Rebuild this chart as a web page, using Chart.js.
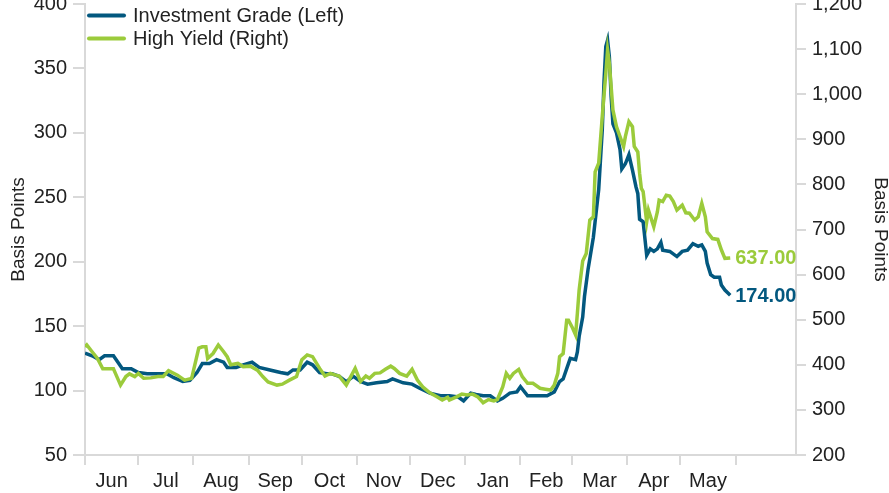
<!DOCTYPE html>
<html>
<head>
<meta charset="utf-8">
<script src="https://cdn.jsdelivr.net/npm/chart.js@4.4.1/dist/chart.umd.min.js"></script>
<style>
  html, body { margin: 0; padding: 0; background: #fff; overflow: hidden; }
  #wrap { position: absolute; left: 0; top: -14px; width: 889px; height: 507px; }
</style>
</head>
<body>
<div id="wrap"><canvas id="myChart"></canvas></div>
<script>
// x values are days counted from 1 Jun 2019
var monthNames = ['Jun', 'Jul', 'Aug', 'Sep', 'Oct', 'Nov', 'Dec', 'Jan', 'Feb', 'Mar', 'Apr', 'May'];
var monthStarts = [0, 30, 61, 92, 122, 153, 183, 214, 245, 274, 305, 335, 366];

var leftTicks = [50, 100, 150, 200, 250, 300, 350, 400];
var rightTicks = [200, 300, 400, 500, 600, 700, 800, 900, 1000, 1100, 1200];

var igDays = [0,4,8,11,16,19,21,26,30,35,40,46,50,55,59,63,66,70,74,78,80,85,89,94,98,104,110,114,117,121,125,128,132,136,139,143,147,151,155,159,164,170,173,179,184,188,194,200,205,210,213,217,220,224,228,232,235,239,243,245,249,254,260,264,267,269,271,273,276,277,278,280,281,283,286,289,291,292,293,294,295,296,297,299,301,302,304,306,308,310,311,312,314,316,318,320,322,324,325,329,333,336,339,342,345,347,349,350,352,354,357,358,360,363];
var igValues = [129,127,124,127,127,121,117,117,114,113,113,113,110,107,108,114,121,121,124,122,118,118,120,122,118,116,114,113,116,116,122,120,114,113,113,111,107,111,107,105,106,107,109,106,105,102,98,96,96,95,92,98,97,96,96,92,94,98,99,103,96,96,96,99,107,109,117,125,124,130,142,157,173,194,219,256,302,340,367,372,359,328,307,300,287,272,276,283,271,258,253,233,231,205,210,208,210,215,209,208,204,208,209,214,212,213,208,199,190,188,188,182,178,174];

var hyDays = [0,1,4,7,10,13,16,17,20,23,25,28,30,33,37,41,44,47,52,56,60,64,66,68,69,72,75,78,80,82,86,89,93,97,100,103,108,111,115,119,122,125,128,132,135,138,141,143,147,149,152,155,158,160,163,166,169,172,174,177,181,184,187,190,194,198,201,204,205,209,212,215,218,221,224,227,230,232,235,237,239,241,244,246,249,252,256,259,262,264,266,267,269,271,272,274,276,277,278,280,282,284,286,287,289,291,293,294,295,297,299,301,303,304,306,308,309,311,312,313,314,316,317,320,322,323,325,327,329,331,333,336,338,340,343,345,347,349,350,353,356,358,360,363];
var hyValues = [440,444,429,414,391,391,391,382,355,374,380,374,381,370,371,374,374,387,377,366,370,437,440,440,414,425,444,429,418,400,403,396,397,388,374,362,355,357,366,374,411,422,418,392,375,381,377,375,355,370,392,363,375,370,381,382,390,397,392,381,375,390,366,351,338,329,322,328,322,329,335,333,335,329,316,323,320,323,351,381,370,381,390,374,359,359,348,346,344,355,381,418,425,499,499,484,466,514,566,630,647,721,728,828,847,950,1046,1098,1069,965,928,906,884,906,939,928,884,872,825,791,784,717,743,706,739,765,762,776,774,762,743,754,737,736,721,728,758,728,695,680,678,655,636,637];

var blue = '#03587f';
var green = '#9bcb3b';
var axisGray = '#d9d9d9';
var textColor = '#222222';

function toPoints(xs, ys) {
    var pts = [];
    for (var i = 0; i < xs.length; i++) pts.push({ x: xs[i], y: ys[i] });
    return pts;
}

// month boundaries get tick marks, mid-months get the labels
var midMonths = {};
var xTicks = monthStarts.slice();
for (var i = 0; i < monthNames.length; i++) {
    var mid = (monthStarts[i] + monthStarts[i + 1]) / 2;
    midMonths[mid] = monthNames[i];
    xTicks.push(mid);
}
xTicks.sort(function (a, b) { return a - b; });

Chart.defaults.font.family = '"Liberation Sans", Arial, sans-serif';
Chart.defaults.font.size = 20;
Chart.defaults.color = textColor;

var endLabels = {
    id: 'endLabels',
    afterDatasetsDraw: function (chart) {
        var c = chart.ctx;
        chart.data.datasets.forEach(function (ds, i) {
            var meta = chart.getDatasetMeta(i);
            var pt = meta.data[meta.data.length - 1];
            var v = ds.data[ds.data.length - 1].y;
            c.save();
            c.font = 'bold 20px "Liberation Sans", Arial, sans-serif';
            c.fillStyle = ds.borderColor;
            c.textBaseline = 'middle';
            c.fillText(v.toFixed(2), pt.x + 5, pt.y + 1);
            c.restore();
        });
    }
};

var insideLegend = {
    id: 'insideLegend',
    afterDraw: function (chart) {
        var c = chart.ctx;
        var x = chart.chartArea.left + 4;
        var y = chart.chartArea.top + 11.5;
        var items = [['Investment Grade (Left)', blue], ['High Yield (Right)', green]];
        c.save();
        c.font = '20px "Liberation Sans", Arial, sans-serif';
        c.textBaseline = 'middle';
        items.forEach(function (it, k) {
            var yy = y + k * 23;
            c.strokeStyle = it[1];
            c.lineWidth = 4;
            c.lineCap = 'round';
            c.beginPath();
            c.moveTo(x, yy);
            c.lineTo(x + 35, yy);
            c.stroke();
            c.fillStyle = textColor;
            c.fillText(it[0], x + 44, yy + 1);
        });
        c.restore();
    }
};

var ctx = document.getElementById('myChart').getContext('2d');

var myChart = new Chart(ctx, {
    type: 'line',
    data: {
        datasets: [{
            label: 'High Yield (Right)',
            data: toPoints(hyDays, hyValues),
            borderColor: green,
            borderWidth: 3.5,
            pointRadius: 0,
            tension: 0,
            yAxisID: 'y1',
            order: 0
        },
        {
            label: 'Investment Grade (Left)',
            data: toPoints(igDays, igValues),
            borderColor: blue,
            borderWidth: 3.5,
            pointRadius: 0,
            tension: 0,
            yAxisID: 'y',
            order: 1
        }]
    },
    options: {
        responsive: true,
        maintainAspectRatio: false,
        animation: false,
        layout: { padding: 0 },
        plugins: {
            legend: { display: false },
            tooltip: { enabled: false }
        },
        scales: {
            x: {
                type: 'linear',
                min: 0,
                max: 400,
                afterBuildTicks: function (scale) {
                    scale.ticks = xTicks.map(function (v) { return { value: v }; });
                },
                afterFit: function (scale) { scale.height = 38; },
                grid: {
                    drawOnChartArea: false,
                    drawTicks: true,
                    tickLength: 10,
                    lineWidth: 2,
                    color: function (c) {
                        return c.tick && monthStarts.indexOf(c.tick.value) >= 0 ? axisGray : 'rgba(0,0,0,0)';
                    }
                },
                border: { display: true, color: axisGray, width: 2 },
                ticks: {
                    autoSkip: false,
                    maxRotation: 0,
                    minRotation: 0,
                    padding: 4,
                    callback: function (v) { return midMonths[v] || ''; }
                }
            },
            y: {
                position: 'left',
                min: 50,
                max: 400,
                afterBuildTicks: function (scale) {
                    scale.ticks = leftTicks.map(function (v) { return { value: v }; });
                },
                afterFit: function (scale) { scale.width = 85; },
                grid: { drawOnChartArea: false, tickLength: 12, color: axisGray, lineWidth: 2 },
                border: { display: true, color: axisGray, width: 2 },
                ticks: { padding: 6 },
                title: { display: true, text: 'Basis Points', padding: { top: 7, bottom: 0 }, font: { size: 19 } }
            },
            y1: {
                position: 'right',
                min: 200,
                max: 1200,
                afterBuildTicks: function (scale) {
                    scale.ticks = rightTicks.map(function (v) { return { value: v }; });
                },
                afterFit: function (scale) { scale.width = 93; },
                grid: { drawOnChartArea: false, tickLength: 10, color: axisGray, lineWidth: 2 },
                border: { display: true, color: axisGray, width: 2 },
                ticks: {
                    padding: 6,
                    callback: function (v) { return v.toLocaleString('en-US'); }
                },
                title: { display: true, text: 'Basis Points', padding: { top: -3, bottom: 0 }, font: { size: 19 } }
            }
        }
    },
    plugins: [endLabels, insideLegend]
});
</script>
</body>
</html>
